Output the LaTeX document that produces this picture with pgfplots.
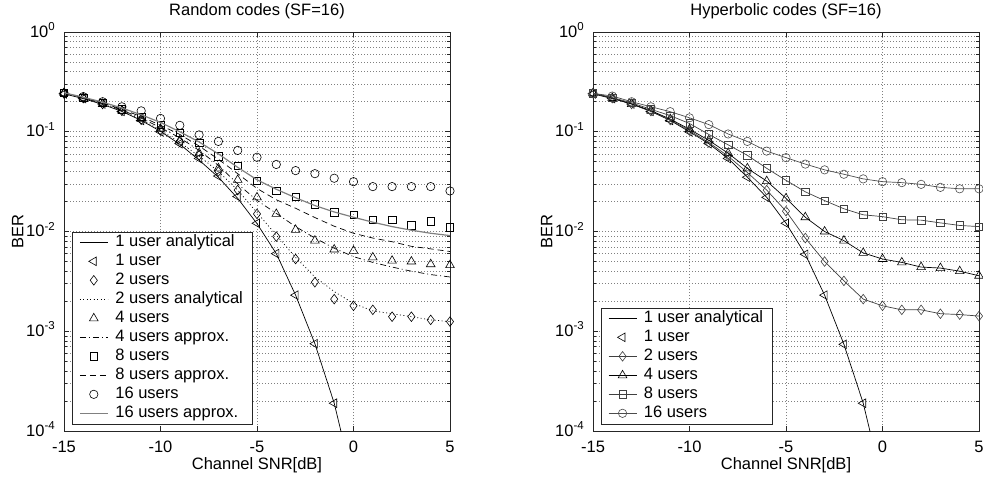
\documentclass[border=0pt]{standalone}
\usepackage{fontspec}
\setmainfont{Liberation Sans}
\usepackage{pgfplots}
\usepackage{pgfplotstable}
\pgfplotsset{compat=1.18}

\newcommand{\fs}{\fontsize{16.5bp}{19.8bp}\selectfont}
\newcommand{\tenpow}[1]{10\raisebox{6.5bp}{\fontsize{11.5bp}{13bp}\selectfont #1}}

\pgfplotstableread{
x   u1      u2      u4      u8      u16     a1      a2      a4      a8      a16
-15 0.240   0.242   0.245   0.245   0.245   0.240   0.242   0.245   0.245   0.246
-14 0.215   0.217   0.220   0.220   0.225   0.215   0.217   0.220   0.221   0.222
-13 0.190   0.190   0.190   0.195   0.200   0.188   0.190   0.192   0.195   0.198
-12 0.160   0.162   0.163   0.168   0.178   0.160   0.162   0.165   0.168   0.173
-11 0.130   0.132   0.135   0.142   0.162   0.130   0.133   0.137   0.142   0.148
-10 0.100   0.103   0.107   0.118   0.136   0.101   0.104   0.110   0.116   0.124
-9  0.076   0.079   0.082   0.097   0.116   0.075   0.078   0.087   0.094   0.100
-8  0.054   0.058   0.061   0.077   0.093   0.052   0.057   0.065   0.072   0.079
-7  0.036   0.040   0.043   0.057   0.080   0.035   0.040   0.046   0.053   0.060
-6  0.0224  0.026   0.0329  0.0455  0.065   0.0215  0.026   0.030   0.038   0.044
-5  0.0121  0.015   0.022   0.0324  0.0555  0.0120  0.0155  0.0205  0.027   0.033
-4  0.0060  0.0089  0.015   0.0257  0.047   0.0060  0.0092  0.0152  0.0208  0.0265
-3  0.0023  0.0053  0.0104  0.0224  0.0408  0.0023  0.0055  0.0112  0.0171  0.0218
-2  0.00075 0.0031  0.0081  0.0188  0.0380  0.00075 0.0035  0.0086  0.0138  0.0182
-1  0.00019 0.0021  0.0066  0.0156  0.0342  0.00019 0.0025  0.0068  0.0113  0.0157
0   nan     0.0018  0.0064  0.0148  0.0316  0.00003 0.0019  0.0056  0.0096  0.0139
1   nan     0.00164 0.0055  0.0131  0.0282  nan     0.0016  0.0049  0.0086  0.0124
2   nan     0.0014  0.0051  0.0131  0.0282  nan     0.0015  0.0044  0.0079  0.0112
3   nan     0.0014  0.0050  0.0115  0.0282  nan     0.0014  0.0040  0.0071  0.0103
4   nan     0.0013  0.0047  0.0126  0.0282  nan     0.0013  0.0037  0.0067  0.0096
5   nan     0.00125 0.0046  0.0110  0.0255  nan     0.00125 0.0035  0.0063  0.0091
}\randtab

\pgfplotstableread{
x   u1      u2      u4      u8      u16     a1
-15 0.240   0.243   0.243   0.243   0.243   0.240
-14 0.215   0.217   0.218   0.220   0.228   0.215
-13 0.190   0.190   0.190   0.195   0.200   0.190
-12 0.160   0.161   0.163   0.168   0.178   0.160
-11 0.130   0.131   0.134   0.145   0.159   0.130
-10 0.100   0.103   0.106   0.121   0.138   0.100
-9  0.076   0.078   0.082   0.094   0.118   0.076
-8  0.054   0.057   0.061   0.074   0.095   0.054
-7  0.035   0.039   0.043   0.058   0.080   0.035
-6  0.022   0.026   0.032   0.043   0.064   0.022
-5  0.0121  0.016   0.0215  0.0326  0.055   0.0121
-4  0.0059  0.0086  0.0139  0.025   0.0474  0.0059
-3  0.0023  0.0050  0.0100  0.0204  0.0415  0.0023
-2  0.00074 0.0032  0.0081  0.0169  0.0375  0.00074
-1  0.00019 0.0021  0.0061  0.0147  0.0337  0.00019
0   nan     0.0018  0.0053  0.0141  0.0316  0.00003
1   nan     0.00164 0.0049  0.0131  0.0309  nan
2   nan     0.00164 0.0044  0.0130  0.0297  nan
3   nan     0.0015  0.0043  0.0122  0.0277  nan
4   nan     0.00147 0.0040  0.0115  0.0268  nan
5   nan     0.00142 0.0036  0.0112  0.0268  nan
}\hyptab

\pgfplotsset{
  legend image code/.code={\draw[mark repeat=2,mark phase=2,#1] plot coordinates {(0bp,0bp) (14bp,0bp) (28bp,0bp)};},
}

\begin{document}
\begin{tikzpicture}
\begin{axis}[
    scale only axis, width=386bp, height=399bp,
    ymode=log, xmin=-15, xmax=5, ymin=1e-4, ymax=1,
    xtick={-15,-10,-5,0,5}, xticklabels={-15,-10,-5,0,5},
    ytick={1e-4,1e-3,1e-2,1e-1,1},
    yticklabels={\tenpow{-4},\tenpow{-3},\tenpow{-2},\tenpow{-1},\tenpow{0}},
    xmajorgrids, ymajorgrids, yminorgrids,
    grid style={black!50, line width=0.6bp, dash pattern=on 0.8bp off 2.2bp},
    minor grid style={black!50, line width=0.6bp, dash pattern=on 0.8bp off 2.2bp},
    axis line style={black!85, line width=0.9bp},
    tick style={black!85, line width=0.6bp},
    major tick length=5bp, minor tick length=3bp,
    tick align=inside, tick pos=both,
    xticklabel style={font=\fs, anchor=base, yshift=-21bp, inner sep=0pt},
    yticklabel style={font=\fs, anchor=base east, xshift=-9bp, yshift=-5bp, inner sep=0pt},
    title style={font=\fs, at={(axis description cs:0.5,1.0263)}, anchor=base},
    xlabel style={font=\fs, at={(axis description cs:0.5,-0.0977)}, anchor=base},
    ylabel style={font=\fs, at={(axis description cs:-0.1054,0.5)}, anchor=base},
    xlabel={Channel SNR[dB]}, ylabel={BER},
    title={Random codes (SF=16)},
    clip mode=individual,
    legend cell align=left,
    legend style={at={(axis description cs:0.0207,0.0175)}, anchor=south west,
      font=\fs, draw=black!85, fill=white, inner xsep=7bp, inner ysep=1bp,
      nodes={inner xsep=2bp, inner ysep=1.6bp, text height=12bp, text depth=3.8bp},
      /tikz/every odd column/.append style={column sep=5bp}},
  ]
\addplot[black, line width=0.7bp, no markers] table[x=x, y=a1] {\randtab};
\addlegendentry{1 user analytical}
\addplot[black, only marks, mark=triangle, mark size=5bp, mark options={solid, rotate=90, line width=0.6bp}] table[x=x, y=u1] {\randtab};
\addlegendentry{1 user}
\addplot[black, only marks, mark=diamond, mark size=4.8bp, mark options={solid, line width=0.6bp}] table[x=x, y=u2] {\randtab};
\addlegendentry{2 users}
\addplot[black, line width=0.7bp, no markers, dash pattern=on 1bp off 2.5bp] table[x=x, y=a2] {\randtab};
\addlegendentry{2 users analytical}
\addplot[black, only marks, mark=triangle, mark size=5bp, mark options={solid, line width=0.6bp}] table[x=x, y=u4] {\randtab};
\addlegendentry{4 users}
\addplot[black, line width=0.7bp, no markers, dash pattern=on 6bp off 3bp on 1bp off 3bp] table[x=x, y=a4] {\randtab};
\addlegendentry{4 users approx.}
\addplot[black, only marks, mark=square, mark size=3.7bp, mark options={solid, line width=0.6bp}] table[x=x, y=u8] {\randtab};
\addlegendentry{8 users}
\addplot[black, line width=0.7bp, no markers, dash pattern=on 6bp off 4bp] table[x=x, y=a8] {\randtab};
\addlegendentry{8 users approx.}
\addplot[black, only marks, mark=o, mark size=4.2bp, mark options={solid, line width=0.6bp}] table[x=x, y=u16] {\randtab};
\addlegendentry{16 users}
\addplot[black!50, no markers, line width=1.2bp] table[x=x, y=a16] {\randtab};
\addlegendentry{16 users approx.}
\end{axis}

\begin{axis}[
    at={(529bp,0bp)},
    scale only axis, width=386bp, height=399bp,
    ymode=log, xmin=-15, xmax=5, ymin=1e-4, ymax=1,
    xtick={-15,-10,-5,0,5}, xticklabels={-15,-10,-5,0,5},
    ytick={1e-4,1e-3,1e-2,1e-1,1},
    yticklabels={\tenpow{-4},\tenpow{-3},\tenpow{-2},\tenpow{-1},\tenpow{0}},
    xmajorgrids, ymajorgrids, yminorgrids,
    grid style={black!50, line width=0.6bp, dash pattern=on 0.8bp off 2.2bp},
    minor grid style={black!50, line width=0.6bp, dash pattern=on 0.8bp off 2.2bp},
    axis line style={black!85, line width=0.9bp},
    tick style={black!85, line width=0.6bp},
    major tick length=5bp, minor tick length=3bp,
    tick align=inside, tick pos=both,
    xticklabel style={font=\fs, anchor=base, yshift=-21bp, inner sep=0pt},
    yticklabel style={font=\fs, anchor=base east, xshift=-9bp, yshift=-5bp, inner sep=0pt},
    title style={font=\fs, at={(axis description cs:0.5,1.0263)}, anchor=base},
    xlabel style={font=\fs, at={(axis description cs:0.5,-0.0977)}, anchor=base},
    ylabel style={font=\fs, at={(axis description cs:-0.1054,0.5)}, anchor=base},
    xlabel={Channel SNR[dB]}, ylabel={BER},
    title={Hyperbolic codes (SF=16)},
    clip mode=individual,
    legend cell align=left,
    legend style={at={(axis description cs:0.0207,0.0175)}, anchor=south west,
      font=\fs, draw=black!85, fill=white, inner xsep=7bp, inner ysep=1bp,
      nodes={inner xsep=2bp, inner ysep=1.6bp, text height=12bp, text depth=3.8bp},
      /tikz/every odd column/.append style={column sep=5bp}},
  ]
\addplot[black, line width=0.7bp, no markers] table[x=x, y=a1] {\hyptab};
\addlegendentry{1 user analytical}
\addplot[black, only marks, mark=triangle, mark size=5bp, mark options={solid, rotate=90, line width=0.6bp}] table[x=x, y=u1] {\hyptab};
\addlegendentry{1 user}
\addplot[black!75, line width=0.7bp, mark=diamond, mark size=4.8bp, mark options={solid, line width=0.6bp}] table[x=x, y=u2] {\hyptab};
\addlegendentry{2 users}
\addplot[black, line width=0.7bp, mark=triangle, mark size=5bp, mark options={solid, line width=0.6bp}] table[x=x, y=u4] {\hyptab};
\addlegendentry{4 users}
\addplot[black!75, line width=0.7bp, mark=square, mark size=3.7bp, mark options={solid, line width=0.6bp}] table[x=x, y=u8] {\hyptab};
\addlegendentry{8 users}
\addplot[black!70, line width=0.7bp, mark=o, mark size=4.2bp, mark options={solid, line width=0.6bp}] table[x=x, y=u16] {\hyptab};
\addlegendentry{16 users}
\end{axis}
\pgfresetboundingbox
\useasboundingbox (-64bp,-48bp) rectangle (919bp,431bp);
\end{tikzpicture}
\end{document}
